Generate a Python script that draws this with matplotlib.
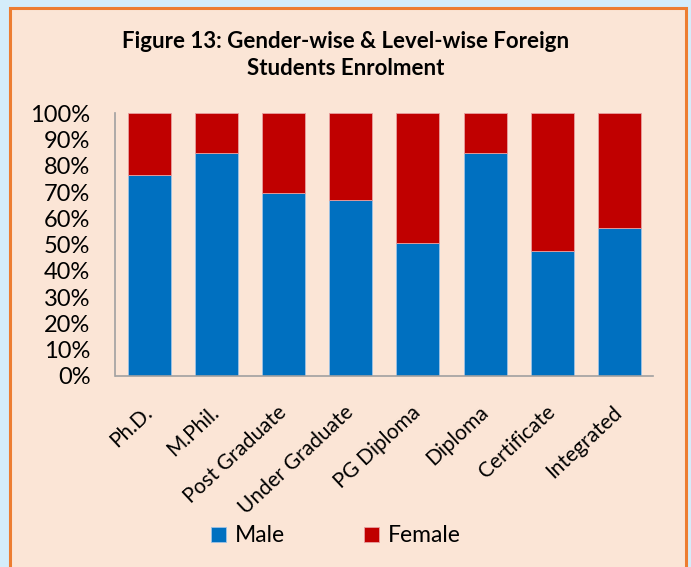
import matplotlib
matplotlib.use("Agg")
import matplotlib.pyplot as plt
from matplotlib.patches import Rectangle

categories = ["Ph.D.", "M.Phil.", "Post Graduate", "Under Graduate",
              "PG Diploma", "Diploma", "Certificate", "Integrated"]
male = [76.4, 84.8, 69.7, 67.1, 50.5, 84.8, 47.5, 56.2]
female = [100 - m for m in male]
yticks = [0, 10, 20, 30, 40, 50, 60, 70, 80, 90, 100]

plt.rcParams['font.family'] = ['Lato', 'DejaVu Sans']

fig = plt.figure(figsize=(6.91, 5.67), dpi=100)
fig.patch.set_facecolor('#D4EDFA')
fig.patches.append(Rectangle((10/691, -0.05), (686-10)/691, (567-8)/567 + 0.05,
                             transform=fig.transFigure, facecolor='#FBE5D6',
                             edgecolor='#ED7D31', linewidth=2.2, zorder=-5))

ax = fig.add_axes([115.5/691, (567-376)/567, (653-115.5)/691, (376-113.3)/567])
ax.set_facecolor('none')

x = list(range(len(categories)))
ax.bar(x, male, width=0.64, color='#0070C0', edgecolor='#9EC3E6', linewidth=0.6, label='Male')
ax.bar(x, female, width=0.64, bottom=male, color='#C00000', edgecolor='#E8A0A0', linewidth=0.6, label='Female')

ax.set_xlim(-0.5, len(categories) - 0.5)
ax.set_ylim(0, 100)
ax.set_yticks(yticks)
ax.set_yticklabels([f"{v}%" for v in yticks], fontsize=17)
ax.set_xticks(x)
ax.set_xticklabels(categories, rotation=43, ha='right', va='center',
                   rotation_mode='anchor', fontsize=15)
ax.tick_params(axis='both', length=0)
ax.tick_params(axis='y', pad=18)
ax.tick_params(axis='x', pad=24)
for s in ['top', 'right']:
    ax.spines[s].set_visible(False)
for s in ['left', 'bottom']:
    ax.spines[s].set_color('#A0A0A0')
    ax.spines[s].set_linewidth(1.2)

fig.text(0.5, 1 - 55/567, "Figure 13: Gender-wise & Level-wise Foreign\nStudents Enrolment",
         ha='center', va='center', fontsize=16, fontweight='bold', linespacing=1.3)

leg = fig.legend(loc='center', bbox_to_anchor=(0.486, 1 - 536/567), ncol=2, frameon=False,
                 fontsize=16.5, handlelength=0.65, handleheight=0.65, columnspacing=3.45,
                 handletextpad=0.4)

fig.savefig("out.png", dpi=100, facecolor=fig.get_facecolor())
